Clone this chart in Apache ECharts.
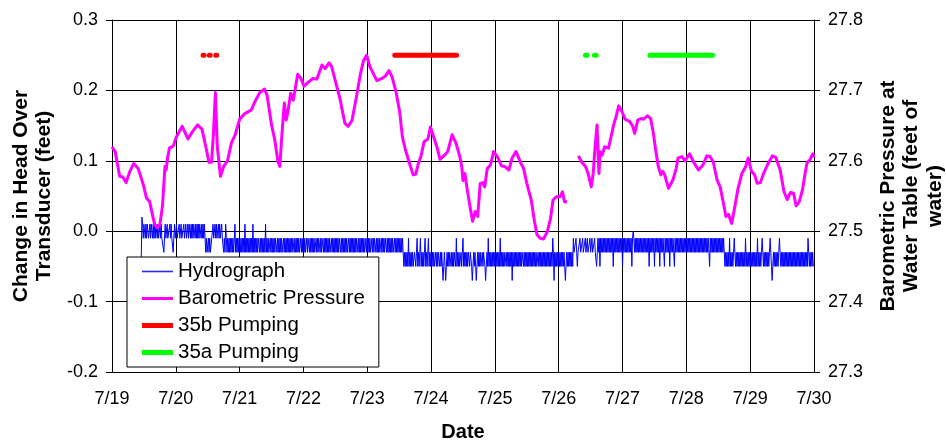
<!DOCTYPE html>
<html>
<head>
<meta charset="utf-8">
<script src="https://cdn.jsdelivr.net/npm/echarts@6/dist/echarts.min.js"></script>
<style>
  html, body { margin: 0; padding: 0; background: #fff; }
  #chart { width: 946px; height: 441px; }
</style>
</head>
<body>
<div id="chart"></div>
<script>
// Time axis: days since 7/19 00:00.
const dateLabels = ['7/19', '7/20', '7/21', '7/22', '7/23', '7/24', '7/25', '7/26', '7/27', '7/28', '7/29', '7/30'];
const headTicks = [-0.2, -0.1, 0.0, 0.1, 0.2, 0.3];
const pressureTicks = [27.3, 27.4, 27.5, 27.6, 27.7, 27.8];

// Hydrograph: 15-minute readings, change in head in hundredths of a foot.
// The record starts on 7/19 at 11:00 (reading 44 of the day).
const hydroPerDay = 96;
const hydroFirstSample = 44;
const hydro0719 = [
  -4,2,1,-1,1,1,-1,1,-1,1,1,-1,-1,1,-1,1,1,-1,1,-1,1,-1,1,1,-1,1,-1,-1,1,-1,1,
  -1,-1,-1,-3,-1,1,-1,-1,1,-1,-1,-1,1,-1,1,-1,-1,-3,-1,1,-1
];
const hydro0720 = [
  -1,1,-1,-1,-1,1,-1,-1,1,-1,-1,-1,1,-1,-1,1,-1,-1,
  1,-1,1,1,-1,1,-1,1,-1,1,1,-1,1,-1,1,-1,1,-1,1,1,-1,1,-1,1,-1,1,-1,
  -3,-1,-3,-3,-1,-3,-1,-3,-3,-1,
  -1,1,-1,-1,1,-1,1,-1,-1,1,-1,1,-1,-1,1,-1,-1,
  -3,-1,-3,1,-1,-3,-1,-3,-1,-3,-1,-3,-1,-3,-1,-3,-1,1,-3,-1,-3,-1,-3,-1
];
const hydro0721 = [
  -1,-3,-1,-3,-1,-3,-1,-3,1,-3,-1,-3,
  -1,-3,-1,-3,-1,-3,-1,-3,1,-3,-1,-3,
  -1,-3,-1,-3,-1,-1,-3,-1,-3,-1,-3,-1,
  -3,-1,-3,1,-3,-1,-3,-1,-3,-3,-1,-3,
  -1,-3,-1,-3,-1,-3,-1,-1,-3,-1,-3,-1,
  -3,-1,-3,-1,-3,-3,-1,-3,-1,-3,-1,-3,
  -1,-3,-1,-3,-1,-3,-1,-3,-1,-1,-3,-1,
  -3,-1,-3,-1,-3,-1,-3,-3,-1,-3,-1,-3
];
const hydro0722 = [
  -1,-3,-1,-3,-3,-1,-3,-1,-1,-3,-1,-3,
  -1,-3,-1,-3,-1,-3,-3,-1,-3,-1,-3,-1,
  -1,-3,-1,-3,-1,-1,-3,-1,-3,-1,-3,-1,
  -3,-1,-3,-1,-3,-3,-1,-3,-1,-3,-1,-3,
  -1,-3,-1,-3,-1,-3,-1,-1,-3,-1,-3,-1,
  -3,-1,-3,-1,-3,-1,-3,-3,-1,-3,-1,-3,
  -1,-3,-1,-3,-1,-3,-1,-3,-1,-1,-3,-1,
  -3,-1,-3,-1,-3,-1,-3,-1,-3,-3,-1,-3
];
const hydro0723 = [
  -1,-3,-1,-3,-1,-3,-3,-1,-3,-1,-3,-1,
  -1,-3,-1,-3,-1,-3,-1,-3,-3,-1,-3,-1,
  -3,-1,-3,-1,-1,-3,-1,-3,-1,-3,-1,-3,
  -1,-3,-1,-3,-3,-1,-3,-1,-3,-1,-3,-1,
  -3,-1,-3,-1,-3,-1,-3,-5,-3,-5,-3,-5,
  -3,-5,-1,-5,-3,-5,-3,-5,-3,-5,-5,-3,
  -3,-5,-3,-1,-5,-3,-5,-3,-1,-5,-3,-5,
  -3,-5,-3,-1,-5,-3,-5,-5,-1,-5,-3,-5
];
const hydro0724 = [
  -3,-5,-3,-5,-3,-5,-5,-3,-5,-3,-5,-3,
  -3,-5,-3,-5,-3,-5,-7,-5,-3,-5,-7,-5,
  -3,-5,-3,-5,-3,-3,-5,-3,-5,-3,-5,-3,
  -3,-5,-1,-5,-3,-5,-3,-5,-5,-3,-5,-3,
  -1,-5,-3,-5,-3,-5,-3,-5,-3,-3,-5,-3,
  -3,-5,-7,-5,-3,-5,-3,-5,-7,-5,-3,-5,
  -3,-5,-3,-5,-5,-3,-5,-3,-3,-5,-7,-5,
  -3,-5,-1,-5,-3,-5,-3,-5,-3,-5,-3,-5
];
const hydro0725 = [
  -3,-5,-3,-5,-3,-5,-3,-5,-1,-5,-3,-5,
  -3,-5,-3,-5,-5,-3,-5,-3,-5,-3,-5,-3,
  -5,-3,-7,-3,-5,-3,-5,-3,-5,-3,-5,-3,
  -5,-3,-5,-3,-5,-3,-3,-5,-3,-5,-3,-5,
  -3,-5,-3,-5,-3,-5,-3,-5,-3,-5,-3,-5,
  -3,-5,-3,-5,-5,-3,-5,-3,-5,-3,-5,-3,
  -5,-3,-5,-3,-5,-3,-5,-3,-5,-3,-5,-3,
  -5,-3,-5,-1,-3,-7,-3,-5,-3,-5,-3,-5
];
const hydro0726 = [
  -3,-5,-3,-5,-3,-5,-3,-5,-3,-5,-7,-5,
  -3,-5,-3,-5,-3,-5,-3,-5,-3,-5,-1,-3,
  -3,-3,-1,-3,-5,-3,-3,-3,-1,-3,-3,-3,
  -1,-3,-3,-3,-1,-3,-3,-1,-3,-3,-3,-1,
  -3,-3,-1,-3,-3,-3,-1,-3,-3,-5,-3,-1,
  -3,-1,-5,-1,-3,-1,-3,-1,-3,-1,-3,-1,
  -3,-1,-3,-1,-3,-1,-3,-1,-3,-1,-5,-1,
  -3,-1,-3,-1,-3,-1,-3,-1,-3,-1,-3,-1
];
const hydro0727 = [
  -5,-1,-3,-1,-3,-1,-3,-1,-3,-1,-3,-1,
  -3,-1,-5,-1,0,-1,-3,-1,-3,-1,-3,-1,
  -3,-1,-3,-1,-3,-1,-3,-1,-3,-1,-3,-1,
  -3,-1,-3,-1,-5,-1,-3,-1,-3,-1,-3,-1,
  -5,-1,-3,-1,-3,-1,-3,-1,-5,-1,-3,-1,
  -3,-1,-3,-5,-1,-3,-1,-3,-1,-3,-1,-5,
  -1,-3,-1,-3,-1,-3,-5,-1,-3,-1,-3,-1,
  -3,-1,-3,-1,-3,-1,-3,-1,-3,-1,-3,-1
];
const hydro0728 = [
  -3,-1,-3,-1,-3,-1,-3,-1,-3,-1,-3,-1,
  -3,-1,-3,-1,-3,-1,-3,-1,-3,-1,-3,-1,
  -3,-1,-3,-1,-3,-1,-3,-1,-3,-1,-3,-5,
  -1,-3,-1,-3,-1,-3,-1,-3,-1,-3,-1,-3,
  -1,-3,-1,-3,-1,-3,-1,-3,-1,-3,-5,-3,
  -5,-3,-5,-3,-5,-1,-5,-3,-5,-3,-5,-3,
  -1,-3,-5,-3,-5,-3,-5,-3,-5,-3,-5,-3,
  -5,-3,-5,-3,-5,-1,-5,-3,-5,-3,-5,-3
];
const hydro0729 = [
  -5,-3,-5,-3,-5,-3,-5,-3,-5,-3,-5,-1,
  -5,-3,-5,-3,-5,-3,-1,-3,-5,-3,-5,-3,
  -5,-3,-5,-3,-5,-3,-1,-3,-5,-7,-5,-3,
  -5,-3,-5,-3,-5,-3,-5,-3,-1,-3,-5,-3,
  -5,-3,-5,-3,-5,-3,-5,-3,-5,-3,-5,-3,
  -5,-3,-5,-3,-5,-3,-5,-3,-5,-3,-5,-3,
  -5,-3,-5,-3,-5,-3,-5,-3,-5,-3,-5,-3,
  -5,-3,-5,-1,-3,-5,-3,-5,-3,-5,-3,-5
];

// Barometric pressure at the water table (feet of water); null marks the gap in the record.
const baroDay = [
  0.00,0.05,0.12,0.17,0.22,0.28,0.34,0.41,0.46,0.50,0.54,0.59,0.63,0.67,0.71,0.75,0.79,0.81,0.83,0.85,0.87,0.90,0.96,
  1.01,1.10,1.14,1.19,1.25,1.34,1.41,1.47,1.52,1.56,1.59,1.62,1.65,1.70,1.75,1.81,1.87,1.93,
  2.00,2.08,2.18,2.24,2.31,2.39,2.43,2.50,2.55,2.60,2.63,2.66,2.70,2.73,2.76,2.80,2.84,2.91,2.96,
  3.01,3.08,3.15,3.21,3.29,3.34,3.40,3.44,3.49,3.57,3.65,3.70,3.76,3.82,3.89,3.94,3.99,
  4.04,4.09,4.15,4.23,4.28,4.34,4.39,4.45,4.51,4.55,4.60,4.67,4.72,4.76,4.80,4.84,4.89,4.95,4.99,
  5.04,5.09,5.14,5.21,5.26,5.33,5.39,5.45,5.48,5.50,5.53,5.56,5.60,5.65,5.69,5.73,5.77,5.81,5.84,5.88,5.93,5.98,
  6.05,6.10,6.15,6.22,6.27,6.33,6.40,6.45,6.50,6.57,6.62,6.66,6.71,6.76,6.82,6.87,6.91,6.96,
  7.02,7.06,7.09,7.13,7.22,7.31,7.36,7.42,7.46,7.51,7.54,7.57,7.60,7.63,7.65,7.68,7.72,7.78,7.82,7.86,7.90,7.94,7.99,
  8.04,8.11,8.16,8.19,8.24,8.29,8.33,8.39,8.44,8.48,8.52,8.56,8.60,8.63,8.66,8.72,8.75,8.79,8.84,8.87,8.93,8.98,
  9.05,9.08,9.12,9.19,9.26,9.32,9.37,9.42,9.48,9.53,9.58,9.62,9.66,9.71,9.76,9.81,9.87,9.93,9.97,
  10.02,10.07,10.11,10.16,10.21,10.28,10.35,10.40,10.47,10.53,10.58,10.63,10.68,10.72,10.77,10.82,10.86,10.89,10.94,10.98,11.00
];
const baroFeet = [
  27.620,27.613,27.578,27.577,27.569,27.585,27.596,27.589,27.575,27.563,27.547,27.542,27.525,27.509,27.505,27.509,27.535,27.563,27.592,27.587,27.604,27.618,27.621,
  27.634,27.649,27.641,27.631,27.640,27.651,27.645,27.620,27.598,27.598,27.639,27.697,27.620,27.578,27.592,27.600,27.625,27.637,
  27.659,27.667,27.672,27.684,27.696,27.702,27.693,27.651,27.630,27.599,27.592,27.634,27.682,27.658,27.672,27.696,27.686,27.723,27.717,
  27.706,27.712,27.717,27.716,27.736,27.731,27.739,27.734,27.717,27.689,27.653,27.649,27.657,27.686,27.722,27.742,27.750,
  27.734,27.725,27.714,27.717,27.720,27.728,27.719,27.698,27.668,27.634,27.615,27.594,27.580,27.581,27.596,27.606,27.627,27.631,27.648,
  27.634,27.620,27.602,27.608,27.613,27.637,27.625,27.606,27.592,27.572,27.582,27.563,27.540,27.514,27.528,27.521,27.568,27.569,27.563,27.589,27.594,27.613,
  27.604,27.593,27.592,27.587,27.604,27.613,27.598,27.589,27.568,27.544,27.514,27.495,27.490,27.489,27.499,27.517,27.544,27.549,
  27.549,27.556,27.542,27.542,null,27.607,27.598,27.592,27.582,27.563,27.582,27.620,27.651,27.582,27.613,27.608,27.620,27.618,27.634,27.651,27.663,27.678,27.670,
  27.659,27.656,27.649,27.639,27.658,27.660,27.659,27.664,27.660,27.641,27.615,27.592,27.580,27.585,27.580,27.561,27.561,27.573,27.589,27.604,27.606,27.600,
  27.610,27.608,27.597,27.587,27.594,27.607,27.606,27.599,27.573,27.563,27.540,27.521,27.524,27.511,27.535,27.561,27.582,27.592,27.604,
  27.585,27.580,27.568,27.569,27.582,27.596,27.607,27.605,27.587,27.556,27.545,27.555,27.554,27.536,27.542,27.559,27.582,27.597,27.602,27.610,27.605
];

// Pumping periods (start/end in days), drawn as flags on the head axis.
const pumpFlagLevel = 0.25;
const pump35bStart = [1.427, 1.524, 1.626, 4.43];
const pump35bEnd   = [1.442, 1.539, 1.641, 5.40];
const pump35aStart = [7.418, 7.560, 8.43];
const pump35aEnd   = [7.446, 7.587, 9.41];

const FONT = "'Liberation Sans', Arial, Helvetica, sans-serif";

function hydroSeriesData() {
  const days = [hydro0719, hydro0720, hydro0721, hydro0722, hydro0723, hydro0724,
                hydro0725, hydro0726, hydro0727, hydro0728, hydro0729];
  const out = [];
  days.forEach((vals, d) => {
    const first = d === 0 ? hydroFirstSample : 0;
    vals.forEach((v, i) => out.push([d + (first + i) / hydroPerDay, v / 100]));
  });
  return out;
}

function baroSeriesData() {
  return baroDay.map((d, i) => [d, baroFeet[i] === null ? '-' : baroFeet[i]]);
}

function pumpSeriesData(starts, ends) {
  const out = [];
  starts.forEach((s, i) => {
    out.push([s, pumpFlagLevel], [ends[i], pumpFlagLevel], [ends[i], '-']);
  });
  return out;
}

const chart = echarts.init(document.getElementById('chart'), null, { renderer: 'canvas' });

const tickLabel = { color: '#000', fontSize: 18, fontFamily: FONT };
const titleStyle = { color: '#000', fontSize: 21, fontWeight: 'bold', fontFamily: FONT, lineHeight: 23.5 };

chart.setOption({
  animation: false,
  backgroundColor: '#fff',
  grid: { left: 112, right: 132, top: 20, bottom: 69, containLabel: false, outerBoundsMode: 'none' },
  xAxis: {
    type: 'value', min: 0, max: dateLabels.length - 1, interval: 1,
    name: 'Date', nameLocation: 'middle', nameGap: 50,
    nameTextStyle: Object.assign({}, titleStyle, { fontSize: 20, lineHeight: 20 }),
    axisLine: { lineStyle: { color: '#000', width: 1 } },
    axisTick: { length: 6, lineStyle: { color: '#000' } },
    axisLabel: Object.assign({ margin: 18, formatter: v => dateLabels[Math.round(v)] }, tickLabel),
    splitLine: { show: true, lineStyle: { color: '#000', width: 1 } }
  },
  yAxis: [
    {
      type: 'value', position: 'left',
      min: headTicks[0], max: headTicks[headTicks.length - 1], interval: 0.1,
      name: 'Change in Head Over\nTransducer (feet)', nameLocation: 'middle', nameGap: 55,
      nameTextStyle: titleStyle,
      axisLine: { show: true, lineStyle: { color: '#000', width: 1 } },
      axisTick: { show: true, length: 6, lineStyle: { color: '#000' } },
      axisLabel: Object.assign({ margin: 14, formatter: v => v.toFixed(1) }, tickLabel),
      splitLine: { show: true, lineStyle: { color: '#000', width: 1 } }
    },
    {
      type: 'value', position: 'right',
      min: pressureTicks[0], max: pressureTicks[pressureTicks.length - 1], interval: 0.1,
      name: 'Barometric Pressure at\nWater Table (feet of\nwater)', nameLocation: 'middle', nameGap: 62,
      nameTextStyle: titleStyle,
      axisLine: { show: true, lineStyle: { color: '#000', width: 1 } },
      axisTick: { show: true, length: 6, lineStyle: { color: '#000' } },
      axisLabel: Object.assign({ margin: 14, formatter: v => v.toFixed(1) }, tickLabel),
      splitLine: { show: false }
    }
  ],
  legend: {
    orient: 'vertical', left: 127, top: 257,
    backgroundColor: '#fff', borderColor: '#000', borderWidth: 1, borderRadius: 0,
    padding: [1, 14, 1, 15],
    itemWidth: 31, itemHeight: 10, itemGap: 0, itemTextGap: 7,
    selectedMode: false,
    textStyle: { color: '#000', fontSize: 20.5, fontFamily: FONT, lineHeight: 27 },
    data: [
      { name: 'Hydrograph', icon: 'path://M0,0H31V1.6H0Z', itemStyle: { color: '#2a2aff', borderWidth: 0 } },
      { name: 'Barometric Pressure', icon: 'path://M0,0H31V3H0Z', itemStyle: { color: '#FF00FF', borderWidth: 0 } },
      { name: '35b Pumping', icon: 'path://M0,0H31V5H0Z', itemStyle: { color: '#FF0000', borderWidth: 0 } },
      { name: '35a Pumping', icon: 'path://M0,0H31V5H0Z', itemStyle: { color: '#00FF00', borderWidth: 0 } }
    ]
  },
  series: [
    {
      name: 'Hydrograph', type: 'line', yAxisIndex: 0, data: hydroSeriesData(),
      step: 'end', showSymbol: false, symbol: 'none', sampling: null,
      itemStyle: { color: '#0000FF' }, lineStyle: { color: '#0000FF', width: 1 }
    },
    {
      name: 'Barometric Pressure', type: 'line', yAxisIndex: 1, data: baroSeriesData(),
      showSymbol: false, symbol: 'none', connectNulls: false,
      itemStyle: { color: '#FF00FF' }, lineStyle: { color: '#FF00FF', width: 3, join: 'round' }
    },
    {
      name: '35b Pumping', type: 'line', yAxisIndex: 0, data: pumpSeriesData(pump35bStart, pump35bEnd),
      showSymbol: false, symbol: 'none', connectNulls: false,
      itemStyle: { color: '#FF0000' }, lineStyle: { color: '#FF0000', width: 5, cap: 'round' }
    },
    {
      name: '35a Pumping', type: 'line', yAxisIndex: 0, data: pumpSeriesData(pump35aStart, pump35aEnd),
      showSymbol: false, symbol: 'none', connectNulls: false,
      itemStyle: { color: '#00FF00' }, lineStyle: { color: '#00FF00', width: 5, cap: 'round' }
    }
  ]
});
</script>
</body>
</html>
